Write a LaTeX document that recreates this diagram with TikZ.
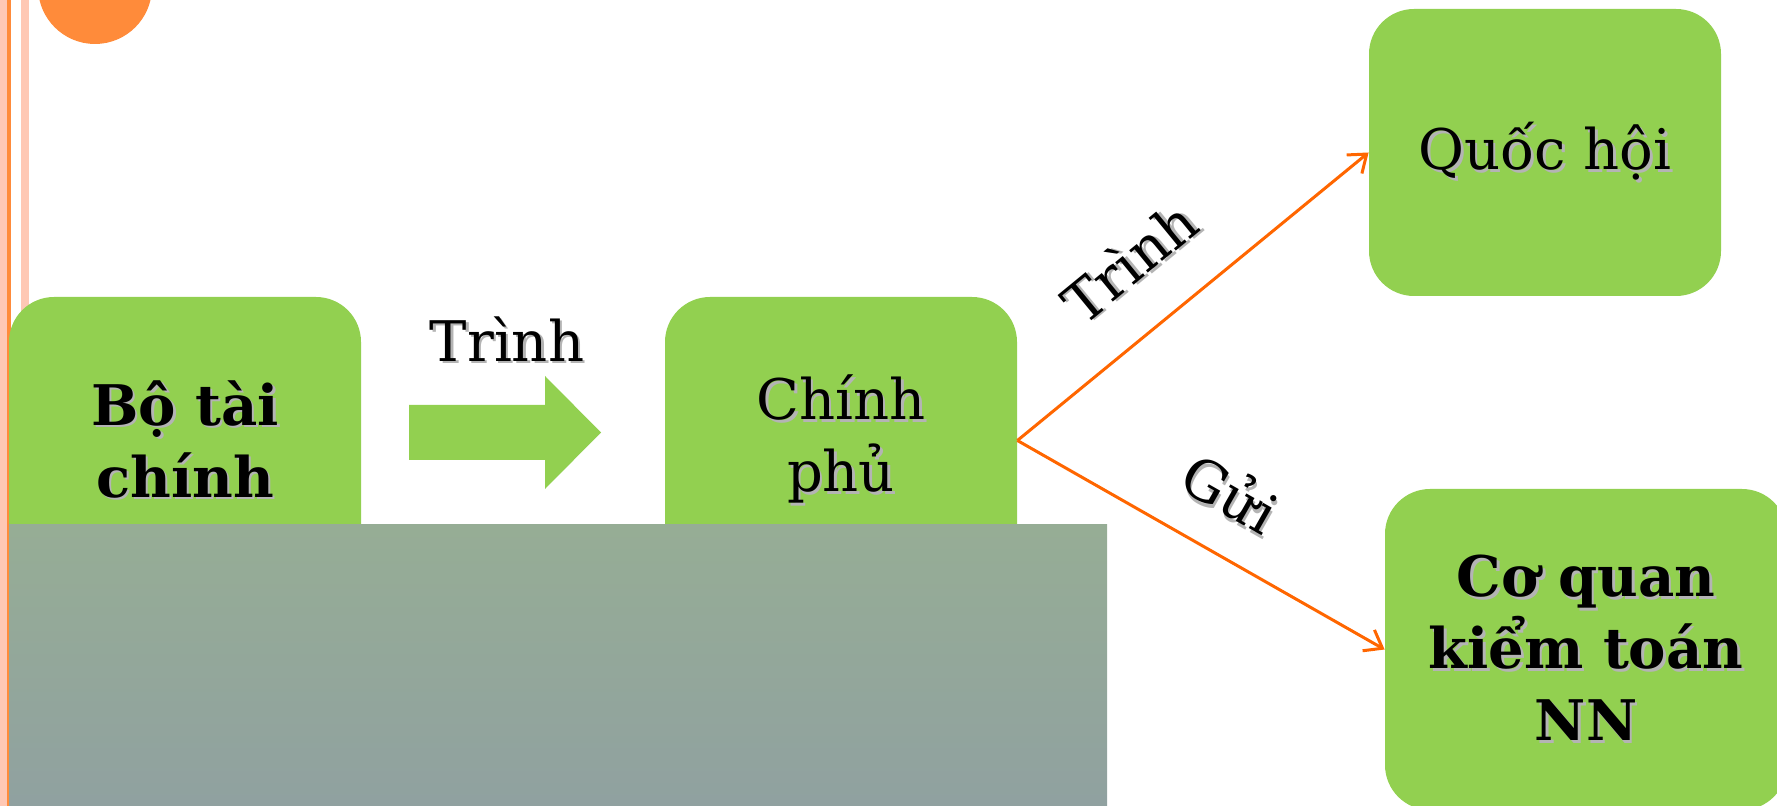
\documentclass[tikz,border=0pt]{standalone}
\usepackage{fontspec}
\setmainfont{DejaVu Serif}
\usetikzlibrary{arrows.meta}
\definecolor{boxgreen}{HTML}{92D050}
\definecolor{dotorange}{HTML}{FF8B3A}
\definecolor{stripepink}{HTML}{FFC8B4}
\definecolor{linkorange}{HTML}{FF6600}
\definecolor{shadowgray}{HTML}{B4B4B4}
\definecolor{slabtop}{RGB}{150,173,149}
\definecolor{slabbottom}{RGB}{144,161,160}
\newcommand\txtshadow[1]{\makebox[0pt][l]{\hspace{1.3pt}\raisebox{-1.3pt}{\color{shadowgray}#1}}#1}
\tikzset{
  organ/.style={rectangle, rounded corners=22.5pt, fill=boxgreen, inner sep=0pt,
    minimum width=176pt, minimum height=143.5pt, align=center,
    font=\fontsize{28}{36}\selectfont},
  link/.style={draw=linkorange, line width=1.5pt, -{Straight Barb[length=8pt,width=12pt]}},
  linklabel/.style={font=\fontsize{28}{34}\selectfont, inner sep=4pt}
}
\begin{document}
\begin{tikzpicture}[x=0.5pt, y=-0.5pt]
          \useasboundingbox (0, 0) rectangle (1777, 806);
          % page decoration
          \fill[stripepink] (0, 0) rectangle (7, 806);
          \fill[dotorange] (7, 0) rectangle (11, 806);
          \fill[stripepink] (21, 0) rectangle (29, 806);
          \fill[dotorange] (95, -13) circle (57);
          % boxes
          \node[organ] (btc) at (185, 440.5) {\bfseries\txtshadow{Bộ tài}\\\bfseries\txtshadow{chính}};
          \node[organ] (cp) at (841, 440.5) {\txtshadow{Chính}\\\txtshadow{phủ}};
          \node[organ] (qh) at (1545, 152.5) {\txtshadow{Quốc hội}};
          \node[organ, minimum width=201pt, minimum height=160.5pt] (cq) at (1586, 649.5)
            {\bfseries\txtshadow{Cơ quan}\\\bfseries\txtshadow{kiểm toán}\\\bfseries\txtshadow{NN}};
          % block arrow
          \fill[boxgreen] (409, 405) -- (545, 405) -- (545, 376) -- (601, 432.5)
            -- (545, 489) -- (545, 460) -- (409, 460) -- cycle;
          \node[linklabel] (trinh1) at (507, 340) {\txtshadow{Trình}};
          \shade[top color=slabtop, bottom color=slabbottom] (9, 525) rectangle (1107, 806);
          % links
          \draw[link] (cp.east) -- (qh.west) node[linklabel, pos=0.44, sloped, above=17pt] (trinh2) {\txtshadow{Trình}};
          \draw[link] (cp.east) -- (cq.west) node[linklabel, pos=0.5, sloped, above=12.5pt] (gui) {\txtshadow{Gửi}};
    \end{tikzpicture}
\end{document}
